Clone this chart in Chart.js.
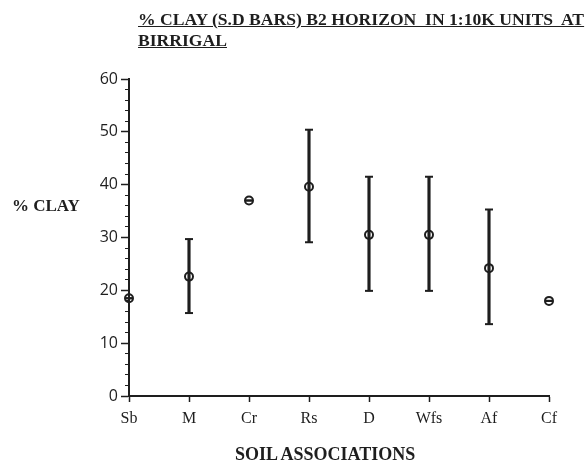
<!DOCTYPE html>
<html>
<head>
<meta charset="utf-8">
<script src="https://cdn.jsdelivr.net/npm/chart.js@4/dist/chart.umd.min.js"></script>
<style>
  html, body { margin: 0; padding: 0; background: #ffffff; }
  #wrap { position: relative; width: 588px; height: 464px; }
  #chart { position: absolute; left: 0; top: 0; }
  .lbl { position: absolute; font-family: 'Liberation Serif', 'Times New Roman', serif; font-weight: bold; color: #1e1e1e; white-space: pre; }
  #title { left: 138px; top: 9px; font-size: 17.6px; line-height: 21px; text-decoration: underline; }
  #ylab { left: 12px; top: 196px; font-size: 17px; line-height: 20px; }
  #xlab { left: 235px; top: 444px; font-size: 18px; line-height: 20px; }
</style>
</head>
<body>
<div id="wrap">
  <canvas id="chart" width="588" height="464"></canvas>
  <div id="title" class="lbl">% CLAY (S.D BARS) B2 HORIZON  IN 1:10K UNITS  AT
BIRRIGAL</div>
  <div id="ylab" class="lbl">% CLAY</div>
  <div id="xlab" class="lbl">SOIL ASSOCIATIONS</div>
</div>
<script>
// Soil associations (categories)
const categories = ['Sb', 'M', 'Cr', 'Rs', 'D', 'Wfs', 'Af', 'Cf'];
// Mean % clay in the B2 horizon
const meanClay = [18.5, 22.6, 37.0, 39.6, 30.5, 30.5, 24.2, 18.0];
// Mean + 1 S.D.
const upperSD = [18.5, 29.7, 37.0, 50.4, 41.5, 41.5, 35.3, 18.0];
// Mean - 1 S.D.
const lowerSD = [18.5, 15.7, 37.0, 29.1, 19.9, 19.9, 13.6, 18.0];
// Y axis range and tick steps
const yMin = 0, yMax = 60, yMajorStep = 10, yMinorStep = 2;

const ink = '#1e1e1e';

const barData = categories.map((c, i) =>
  upperSD[i] > lowerSD[i] ? [lowerSD[i], upperSD[i]] : null);

new Chart(document.getElementById('chart'), {
  type: 'line',
  data: {
    labels: categories,
    datasets: [
      {
        type: 'bar',
        label: 'S.D. bar',
        data: barData,
        backgroundColor: ink,
        borderWidth: 0,
        barThickness: 2.5,
        clip: false,
        order: 3
      },
      {
        label: 'upper cap',
        data: upperSD,
        showLine: false,
        pointStyle: 'line',
        radius: 4,
        borderWidth: 2,
        borderColor: ink,
        clip: false,
        order: 2
      },
      {
        label: 'lower cap',
        data: lowerSD,
        showLine: false,
        pointStyle: 'line',
        radius: 4,
        borderWidth: 2,
        borderColor: ink,
        clip: false,
        order: 2
      },
      {
        label: 'mean',
        data: meanClay,
        showLine: false,
        pointStyle: 'circle',
        radius: 4,
        borderWidth: 2,
        borderColor: ink,
        backgroundColor: 'rgba(0,0,0,0)',
        clip: false,
        order: 1
      }
    ]
  },
  options: {
    responsive: false,
    animation: false,
    events: [],
    layout: { padding: { left: 79, right: 39, top: 79, bottom: 0 } },
    plugins: { legend: { display: false }, tooltip: { enabled: false }, title: { display: false } },
    scales: {
      x: {
        type: 'category',
        offset: false,
        grid: { offset: false, drawOnChartArea: false, tickLength: 6, tickColor: ink, tickWidth: 1.5 },
        border: { color: ink, width: 2 },
        ticks: { color: ink, padding: 7, font: { family: "'Liberation Serif'", size: 16 }, maxRotation: 0, autoSkip: false },
        afterFit: s => { s.height = 68; }
      },
      y: {
        type: 'linear',
        position: 'left',
        weight: 1,
        min: yMin, max: yMax,
        grid: { drawOnChartArea: false, tickLength: 8, tickColor: ink, tickWidth: 1.5 },
        border: { color: ink, width: 2 },
        ticks: { stepSize: yMajorStep, color: ink, padding: 3, font: { family: "'Open Sans'", size: 16 } },
        afterFit: s => { s.width = 50; }
      },
      yMinor: {
        type: 'linear',
        position: 'left',
        weight: 0,
        min: yMin, max: yMax,
        grid: { drawOnChartArea: false, tickLength: 4, tickColor: ink, tickWidth: 1 },
        border: { display: false },
        ticks: { stepSize: yMinorStep, display: false },
        afterFit: s => { s.width = 0; }
      }
    }
  }
});
</script>
</body>
</html>
